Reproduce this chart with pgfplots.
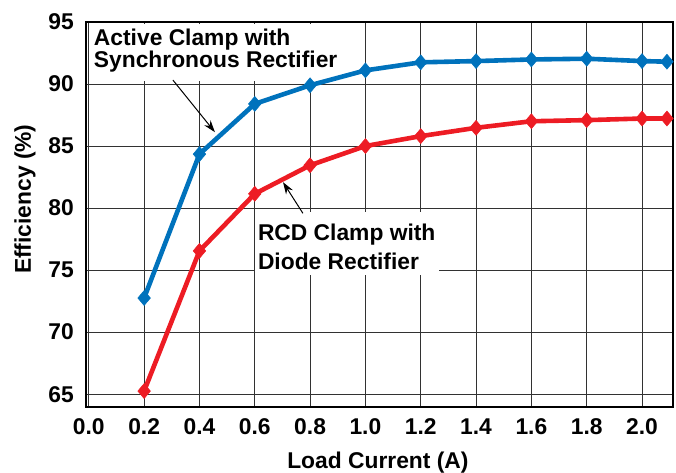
\documentclass[border=0pt]{standalone}
\usepackage{fontspec}
\setmainfont{Liberation Sans}
\usepackage{pgfplots}
\pgfplotsset{compat=1.18}
\usetikzlibrary{arrows.meta,calc}
\definecolor{cblue}{RGB}{0,114,188}
\definecolor{cred}{RGB}{237,28,36}
\definecolor{cgrid}{RGB}{50,50,50}
\newcommand{\bigf}{\fontsize{22.8}{27}\selectfont\bfseries}
\begin{document}
\begin{tikzpicture}
\begin{axis}[
  scale only axis,
  width=587pt, height=385pt,
  xmin=-0.01, xmax=2.113,
  ymin=63.95, ymax=95,
  xtick={0,0.2,...,2.01},
  ytick={65,70,...,95},
  xticklabels={0.0,0.2,0.4,0.6,0.8,1.0,1.2,1.4,1.6,1.8,2.0},
  yticklabels={65,70,75,80,85,90,95},
  major tick length=0pt,
  grid=major,
  grid style={cgrid, line width=0.9pt},
  axis line style={black, line width=2pt},
  tick label style={font=\bigf, inner sep=0pt},
  xticklabel style={anchor=north, yshift=-11pt},
  yticklabel style={anchor=east, xshift=-12pt},
  xlabel={Load Current (A)},
  ylabel={Efficiency (\%)},
  label style={font=\bigf},
  xlabel style={at={(axis description cs:0.497,-0.159)}, anchor=base, inner sep=0pt},
  ylabel style={at={(axis description cs:-0.104,0.54)}, anchor=center, inner sep=0pt},
  clip=false,
]
\fill[white] (axis cs:0.005,90.25) rectangle (axis cs:0.9,94.85);
\fill[white] (axis cs:0.60,74.58) rectangle (axis cs:1.266,79.67);

\addplot[cblue, line width=4.6pt, mark=diamond*, mark size=7.5pt, mark options={solid, fill=cblue, line width=0.5pt, xscale=1.12}] coordinates {
(0.2,72.75) (0.4,84.35) (0.6,88.4) (0.8,89.9) (1.0,91.1) (1.2,91.75) (1.4,91.85) (1.6,91.98) (1.8,92.04) (2.0,91.85) (2.09,91.8)
};
\addplot[cred, line width=4.6pt, mark=diamond*, mark size=7.5pt, mark options={solid, fill=cred, line width=0.5pt, xscale=1.12}] coordinates {
(0.2,65.25) (0.4,76.55) (0.6,81.15) (0.8,83.45) (1.0,85.0) (1.2,85.8) (1.4,86.47) (1.6,87.0) (1.8,87.09) (2.0,87.22) (2.09,87.22)
};

\node[font=\bigf, anchor=base west, inner sep=0pt] at (axis cs:0.018,93.14) {Active Clamp with};
\node[font=\bigf, anchor=base west, inner sep=0pt] at (axis cs:0.018,91.37) {Synchronous Rectifier};
\node[font=\bigf, anchor=base west, inner sep=0pt] at (axis cs:0.611,77.35) {RCD Clamp with};
\node[font=\bigf, anchor=base west, inner sep=0pt] at (axis cs:0.611,75.04) {Diode Rectifier};

\draw[black, line width=1pt, -{Stealth[length=12pt,width=8pt]}] (axis cs:0.304,90.32) -- (axis cs:0.456,86.12);
\draw[black, line width=1pt, -{Stealth[length=12pt,width=8pt]}] (axis cs:0.774,79.58) -- (axis cs:0.702,82.09);

\coordinate (SW) at (rel axis cs:0,0);
\coordinate (NE) at (rel axis cs:1,1);
\end{axis}
\pgfresetboundingbox
\path[use as bounding box] ($(SW)+(-86pt,-65.3pt)$) rectangle ($(NE)+(2.7pt,22pt)$);
\end{tikzpicture}
\end{document}
